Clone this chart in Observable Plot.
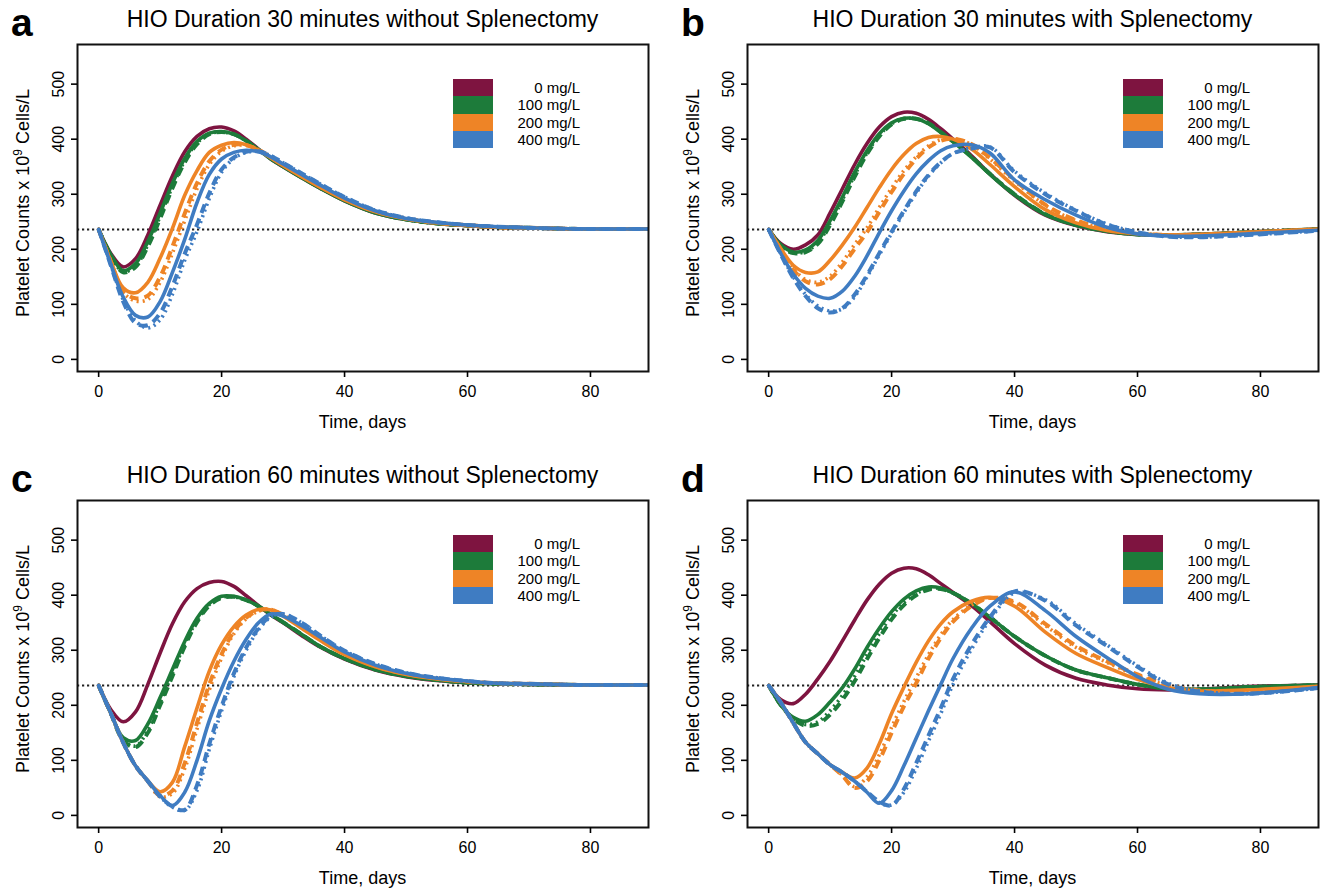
<!DOCTYPE html>
<html>
<head>
<meta charset="utf-8">
<script src="https://cdn.jsdelivr.net/npm/d3@7"></script>
<script src="https://cdn.jsdelivr.net/npm/@observablehq/plot@0.6"></script>
<style>
  html, body { margin: 0; padding: 0; background: #fff; }
  #fig { position: relative; width: 1320px; height: 889px; overflow: hidden; font-family: "Liberation Sans", Arial, sans-serif; color: #000; }
  .panel { position: absolute; width: 650px; height: 433px; }
  .panel svg { position: absolute; left: 0; top: 0; }
  .letter { position: absolute; left: 11px; top: 3px; font-size: 39px; line-height: 39px; font-weight: bold; }
  .title { position: absolute; left: 77px; width: 571px; top: 7.5px; font-size: 23px; line-height: 23px; text-align: center; white-space: nowrap; }
  .xlab { position: absolute; left: 77px; width: 571px; top: 414px; font-size: 18px; line-height: 16px; text-align: center; }
  .ylab { position: absolute; left: 23px; top: 203px; font-size: 18px; line-height: 18px; white-space: nowrap; transform: translate(-50%, -50%) rotate(-90deg); }
  .ylab sup { font-size: 12px; line-height: 0; vertical-align: 7px; }
  .legend { position: absolute; left: 453px; top: 79px; }
  .legend .row { display: flex; height: 17.25px; align-items: center; }
  .legend .sw { width: 40px; height: 17.25px; }
  .legend .lab { width: 87px; text-align: right; font-size: 15px; line-height: 17.25px; }
</style>
</head>
<body>
<div id="fig"></div>
<script>
// ---------- data ----------
const days = [0,2,4,6,8,10,12,14,16,18,20,22,24,26,28,30,33,36,40,45,50,55,60,65,70,78,90];
const concentrations = ["0 mg/L", "100 mg/L", "200 mg/L", "400 mg/L"];
const colors = ["#7e1440", "#1d7b3a", "#ee8426", "#3f7cc2"];
const panelLetters = ["a", "b", "c", "d"];
const panelTitles = [
  "HIO Duration 30 minutes without Splenectomy",
  "HIO Duration 30 minutes with Splenectomy",
  "HIO Duration 60 minutes without Splenectomy",
  "HIO Duration 60 minutes with Splenectomy"
];
const xTicks = [0, 20, 40, 60, 80];
const yTicks = [0, 100, 200, 300, 400, 500];
const baseline = 236;
const xLabel = "Time, days";

// Panel a
const a_0_solid     = [236,192,168,183,226,280,333,377,405,419,422,415,400,382,364,350,330,311,288,266,254,247,243,240,239,237,237];
const a_100_solid   = [236,190,161,174,214,266,320,365,396,411,414,409,397,381,364,350,330,311,288,266,254,247,243,240,239,237,237];
const a_100_dashed  = [236,189,158,168,205,256,311,358,391,409,413,409,397,381,365,351,331,312,289,267,254,247,243,240,239,237,237];
const a_100_dotted  = [236,189,159,170,208,260,314,361,393,410,413,409,397,381,365,351,331,312,289,267,254,247,243,240,239,237,237];
const a_200_solid   = [236,178,130,121,140,184,238,298,343,376,389,394,390,380,366,352,332,313,290,268,255,248,243,240,239,237,237];
const a_200_dashed  = [236,177,124,111,116,150,205,265,320,360,381,390,389,381,367,353,333,314,291,269,256,248,244,240,239,237,237];
const a_200_dotted  = [236,177,122,106,109,140,193,252,310,354,378,388,389,381,367,353,333,314,291,269,256,248,244,240,239,237,237];
const a_400_solid   = [236,172,113,80,77,105,158,218,285,336,364,376,380,377,368,355,336,317,293,270,256,249,244,241,239,237,237];
const a_400_dashed  = [236,170,105,66,62,84,133,192,245,302,345,367,377,378,370,357,338,319,295,271,257,249,244,241,239,237,237];
const a_400_dotted  = [236,171,108,70,57,72,118,180,232,292,340,365,376,378,370,357,338,319,295,271,257,249,244,241,239,237,237];

// Panel b
const b_0_solid     = [236,210,200,208,226,266,310,354,392,422,441,449,447,436,419,400,370,337,298,262,243,232,227,226,227,231,237];
const b_100_solid   = [236,208,195,199,216,252,295,340,379,410,430,438,437,428,412,395,367,336,299,263,244,233,227,226,227,231,237];
const b_100_dashed  = [236,207,193,195,210,244,287,332,373,405,427,437,437,429,413,396,368,337,300,264,244,233,227,226,227,231,237];
const b_100_dotted  = [236,207,193,196,212,247,290,335,375,407,428,437,437,429,413,396,368,337,300,264,244,233,227,226,227,231,237];
const b_200_solid   = [236,201,171,158,159,180,208,240,276,312,345,372,392,403,405,400,382,354,314,272,248,234,228,226,227,231,237];
const b_200_dashed  = [236,199,163,142,136,146,170,201,231,268,304,337,364,385,397,401,391,366,326,281,253,237,229,226,226,230,236];
const b_200_dotted  = [236,199,165,145,140,151,177,209,239,276,311,343,368,388,399,401,390,364,324,280,252,237,229,226,226,230,236];
const b_400_solid   = [236,192,155,129,115,111,124,151,188,230,270,306,337,361,379,388,390,375,326,290,262,240,228,224,224,228,235];
const b_400_dashed  = [236,190,148,115,93,85,93,118,153,193,232,270,305,335,358,374,383,385,340,300,270,245,231,223,222,226,234];
const b_400_dotted  = [236,191,150,118,97,88,92,114,150,190,229,267,302,333,357,374,384,386,342,302,271,246,231,223,222,226,234];

// Panel c
const c_0_solid     = [236,192,170,188,238,295,348,388,412,423,425,416,399,381,364,350,327,306,284,264,252,245,241,239,238,237,237];
const c_100_solid   = [236,185,141,136,166,214,265,316,358,385,398,398,391,380,365,351,329,307,285,265,253,246,241,239,238,237,237];
const c_100_dashed  = [236,185,136,124,150,200,253,307,351,381,395,397,391,380,365,351,329,307,285,265,253,246,241,239,238,237,237];
const c_100_dotted  = [236,185,137,126,155,205,258,311,354,383,396,397,391,380,365,351,329,307,285,265,253,246,241,239,238,237,237];
const c_200_solid   = [236,185,132,90,63,43,60,125,195,262,310,343,364,374,373,362,340,318,292,270,256,248,243,240,239,237,237];
const c_200_dashed  = [236,185,132,90,62,36,45,95,168,238,293,334,359,372,374,364,342,320,294,271,257,249,243,240,239,237,237];
const c_200_dotted  = [236,185,132,90,62,34,40,85,157,228,286,330,357,371,374,364,342,320,294,271,257,249,243,240,239,237,237];
const c_400_solid   = [236,185,132,90,63,36,18,42,100,172,230,280,320,350,366,362,345,324,297,273,258,249,244,240,239,237,237];
const c_400_dashed  = [236,185,132,90,62,34,16,10,55,130,198,258,305,340,362,366,350,327,299,275,259,250,244,240,239,237,237];
const c_400_dotted  = [236,185,132,90,62,34,15,9,45,120,190,252,300,337,360,366,350,327,299,275,259,250,244,240,239,237,237];

// Panel d
const d_0_solid     = [236,210,203,220,248,280,317,355,391,420,440,449,448,437,421,405,381,352,312,273,249,237,230,228,229,234,237];
const d_100_solid   = [236,200,178,171,183,206,232,266,305,340,370,393,408,415,413,404,385,360,325,290,264,250,238,230,229,233,237];
const d_100_dashed  = [236,200,175,163,166,183,210,244,284,322,356,382,400,410,411,404,385,360,325,290,264,250,238,230,229,233,237];
const d_100_dotted  = [236,200,176,165,170,190,218,253,292,330,362,387,403,412,412,404,385,360,325,290,264,250,238,230,229,233,237];
const d_200_solid   = [236,205,168,133,112,92,78,68,86,130,185,233,278,317,348,370,389,396,380,333,294,269,247,232,226,228,235];
const d_200_dashed  = [236,205,168,133,112,92,72,50,62,100,150,198,240,285,322,352,380,395,388,348,308,280,256,237,227,226,234];
const d_200_dotted  = [236,205,168,133,112,92,73,52,70,110,160,207,250,292,328,356,382,395,386,345,305,278,254,236,227,226,234];
const d_400_solid   = [236,205,168,133,112,92,78,62,42,22,45,90,140,190,238,285,340,380,406,372,325,287,252,229,221,221,233];
const d_400_dashed  = [236,205,168,133,112,92,78,62,43,25,18,48,95,145,195,248,310,360,407,390,345,308,270,238,225,221,232];
const d_400_dotted  = [236,205,168,133,112,92,78,62,43,23,19,42,85,135,185,238,302,355,404,392,348,310,272,240,226,221,232];

// ---------- assembly ----------
function seriesList(s0, s100s, s100d, s100o, s200s, s200d, s200o, s400s, s400d, s400o) {
  return [
    {conc: concentrations[0], style: "solid", values: s0},
    {conc: concentrations[1], style: "solid", values: s100s},
    {conc: concentrations[1], style: "dashed", values: s100d},
    {conc: concentrations[1], style: "dotted", values: s100o},
    {conc: concentrations[2], style: "solid", values: s200s},
    {conc: concentrations[2], style: "dashed", values: s200d},
    {conc: concentrations[2], style: "dotted", values: s200o},
    {conc: concentrations[3], style: "solid", values: s400s},
    {conc: concentrations[3], style: "dashed", values: s400d},
    {conc: concentrations[3], style: "dotted", values: s400o}
  ];
}
const panels = [
  seriesList(a_0_solid, a_100_solid, a_100_dashed, a_100_dotted, a_200_solid, a_200_dashed, a_200_dotted, a_400_solid, a_400_dashed, a_400_dotted),
  seriesList(b_0_solid, b_100_solid, b_100_dashed, b_100_dotted, b_200_solid, b_200_dashed, b_200_dotted, b_400_solid, b_400_dashed, b_400_dotted),
  seriesList(c_0_solid, c_100_solid, c_100_dashed, c_100_dotted, c_200_solid, c_200_dashed, c_200_dotted, c_400_solid, c_400_dashed, c_400_dotted),
  seriesList(d_0_solid, d_100_solid, d_100_dashed, d_100_dotted, d_200_solid, d_200_dashed, d_200_dotted, d_400_solid, d_400_dashed, d_400_dotted)
];

const styleOf = {
  solid:  {strokeWidth: 3.6},
  dashed: {strokeWidth: 4, strokeDasharray: "9,6", strokeLinecap: "butt"},
  dotted: {strokeWidth: 3.6, strokeDasharray: "2,4", strokeLinecap: "butt"}
};

const fig = document.getElementById("fig");
const positions = [[0, 0], [670, 0], [0, 456], [670, 456]];

panels.forEach((series, k) => {
  const div = document.createElement("div");
  div.className = "panel";
  div.style.left = positions[k][0] + "px";
  div.style.top = positions[k][1] + "px";

  const marks = [
    Plot.ruleY([baseline], {stroke: "#222", strokeWidth: 2, strokeDasharray: "2.2,2.8"}),
    ...series.map(s => Plot.line(
      days.map((d, i) => ({day: d, value: s.values[i], conc: s.conc})),
      {x: "day", y: "value", stroke: "conc", curve: "catmull-rom", clip: true, ...styleOf[s.style]}
    )),
    Plot.frame({stroke: "#111", strokeWidth: 2}),
    Plot.axisX({ticks: xTicks, tickSize: 6, tickPadding: 8, fontSize: 16, label: null, strokeWidth: 1.6}),
    Plot.axisY({ticks: yTicks, tickSize: 6, tickPadding: 8, tickRotate: -90, fontSize: 16, label: null, strokeWidth: 1.6})
  ];

  const svg = Plot.plot({
    width: 650, height: 433,
    marginLeft: 77, marginRight: 2, marginTop: 44, marginBottom: 62,
    x: {domain: [-3.44, 89.44]},
    y: {domain: [-22, 572]},
    color: {domain: concentrations, range: colors},
    style: {fontFamily: "'Liberation Sans', Arial, sans-serif", color: "#000", background: "transparent", overflow: "visible"},
    marks
  });
  div.appendChild(svg);

  const letter = document.createElement("div");
  letter.className = "letter"; letter.textContent = panelLetters[k];
  div.appendChild(letter);

  const title = document.createElement("div");
  title.className = "title"; title.textContent = panelTitles[k];
  div.appendChild(title);

  const xl = document.createElement("div");
  xl.className = "xlab"; xl.textContent = xLabel;
  div.appendChild(xl);

  const yl = document.createElement("div");
  yl.className = "ylab";
  yl.innerHTML = "Platelet Counts x 10<sup>9</sup> Cells/L";
  div.appendChild(yl);

  const leg = document.createElement("div");
  leg.className = "legend";
  concentrations.forEach((c, i) => {
    const row = document.createElement("div"); row.className = "row";
    const sw = document.createElement("div"); sw.className = "sw"; sw.style.background = colors[i];
    const lab = document.createElement("div"); lab.className = "lab"; lab.textContent = c;
    row.appendChild(sw); row.appendChild(lab); leg.appendChild(row);
  });
  div.appendChild(leg);

  fig.appendChild(div);
});
</script>
</body>
</html>
